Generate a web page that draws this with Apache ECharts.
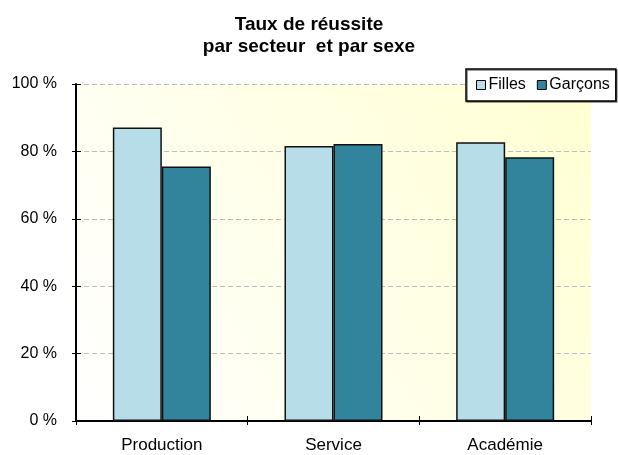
<!DOCTYPE html>
<html>
<head>
<meta charset="utf-8" />
<title>Taux de réussite</title>
<script src="https://cdn.jsdelivr.net/npm/echarts@6/dist/echarts.min.js"></script>
<style>
  html, body { margin: 0; padding: 0; background: #fff; }
  #main { width: 618px; height: 455px; }
</style>
</head>
<body>
<div id="main"></div>
<script type="text/javascript">
  // données
  var secteurs = ['Production', 'Service', 'Académie'];
  var filles = [87.1, 81.6, 82.7];
  var garcons = [75.5, 82.2, 78.3];
  var yMin = 0, yMax = 100, yStep = 20;

  var police = '"Liberation Sans", Arial, sans-serif';

  var myChart = echarts.init(document.getElementById('main'));

  var grid = { left: 76, right: 27, top: 84, bottom: 34 };

  myChart.setOption({
    animation: false,
    textStyle: { fontFamily: police, color: '#000' },
    title: {
      text: 'Taux de réussite\npar secteur  et par sexe',
      left: 'center',
      top: 9,
      textStyle: {
        fontFamily: police,
        fontSize: 19,
        fontWeight: 'bold',
        color: '#000',
        lineHeight: 22
      }
    },
    legend: {
      data: ['Filles', 'Garçons'],
      left: 466,
      top: 69,
      orient: 'horizontal',
      itemWidth: 9,
      itemHeight: 9,
      itemGap: 11,
      padding: [8, 6, 8, 10],
      backgroundColor: '#fff',
      borderColor: '#000',
      borderWidth: 1.5,
      shadowColor: 'rgba(0,0,0,0.5)',
      shadowOffsetX: 1,
      shadowOffsetY: 1,
      icon: 'rect',
      itemStyle: { borderColor: '#000', borderWidth: 1 },
      textStyle: { fontFamily: police, fontSize: 16, color: '#000', padding: [0, 0, 0, -2] }
    },
    grid: Object.assign({
      show: true,
      borderWidth: 0,
      backgroundColor: new echarts.graphic.LinearGradient(0, 1, 1, 0, [
        { offset: 0, color: '#ffffff' },
        { offset: 1, color: '#ffffd2' }
      ])
    }, grid),
    xAxis: [{
      type: 'category',
      data: secteurs,
      axisLine: { lineStyle: { color: '#000', width: 2 } },
      axisTick: { show: true, length: 4, lineStyle: { color: '#000', width: 1 } },
      axisLabel: { fontSize: 17, color: '#000', margin: 16, fontFamily: police }
    }, {
      type: 'category',
      data: secteurs,
      position: 'bottom',
      axisLine: { show: false },
      axisTick: { show: true, inside: true, length: 5, lineStyle: { color: '#000', width: 1 } },
      axisLabel: { show: false }
    }],
    yAxis: [{
      type: 'value',
      min: yMin,
      max: yMax,
      interval: yStep,
      axisLine: { show: true, lineStyle: { color: '#000', width: 2 } },
      axisTick: { show: true, length: 4, lineStyle: { color: '#000', width: 1 } },
      axisLabel: {
        fontSize: 16,
        color: '#000',
        margin: 19,
        fontFamily: police,
        formatter: function (v) { return v + ' %'; }
      },
      splitLine: { show: true, lineStyle: { color: '#bdbdbd', type: [5, 3], width: 1 } }
    }, {
      type: 'value',
      min: yMin,
      max: yMax,
      interval: yStep,
      position: 'left',
      axisLine: { show: false },
      axisTick: { show: true, inside: true, length: 5, lineStyle: { color: '#000', width: 1 } },
      axisLabel: { show: false },
      splitLine: { show: false }
    }],
    series: [{
      name: 'Filles',
      type: 'bar',
      data: filles,
      barWidth: 49,
      barGap: '0%',
      itemStyle: { color: '#b7dee8', borderColor: '#111', borderWidth: 1.5 }
    }, {
      name: 'Garçons',
      type: 'bar',
      data: garcons,
      barWidth: 49,
      barGap: '0%',
      itemStyle: { color: '#31849b', borderColor: '#111', borderWidth: 1.5 }
    }]
  });
</script>
</body>
</html>
